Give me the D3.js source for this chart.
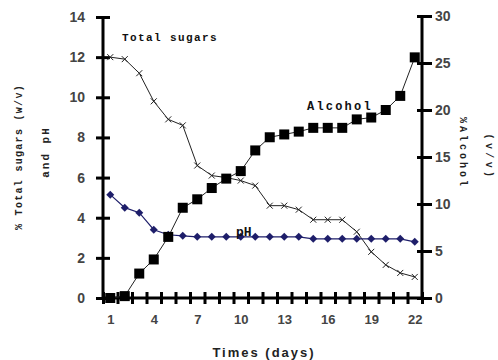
<!DOCTYPE html>
<head>
  <meta charset="utf-8">
  <script src="https://d3js.org/d3.v7.min.js"></script>
  <style>
    body { margin:0; background:#fff; }
    svg { display:block; }
  </style>
</head>
<body>
<script>
// data
var days = [1,2,3,4,5,6,7,8,9,10,11,12,13,14,15,16,17,18,19,20,21,22];
var totalSugars = [12.0,11.9,11.2,9.8,8.9,8.6,6.6,6.1,6.0,5.85,5.6,4.6,4.6,4.4,3.9,3.9,3.9,3.3,2.3,1.65,1.25,1.05];
var pH = [5.15,4.5,4.25,3.4,3.15,3.1,3.05,3.05,3.05,3.05,3.05,3.05,3.05,3.05,2.95,2.95,2.95,2.95,2.95,2.95,2.95,2.8];
var alcohol = [0,0.2,2.6,4.1,6.5,9.6,10.5,11.7,12.7,13.5,15.7,17.1,17.4,17.7,18.1,18.1,18.1,19.0,19.2,20.0,21.5,25.6];
var xTickLabels = [1,4,7,10,13,16,19,22];
var leftTicks = [0,2,4,6,8,10,12,14];
var rightTicks = [0,5,10,15,20,25,30];

var width = 498, height = 360;
var svg = d3.select("body").append("svg")
  .attr("width", width).attr("height", height);

var x = d3.scaleLinear().domain([0.5, 22.5]).range([103, 422]);
var yL = d3.scaleLinear().domain([0, 14]).range([298, 17]);
var yR = d3.scaleLinear().domain([0, 30]).range([298, 16]);

var numFont = "'Liberation Sans', Arial, sans-serif";
var labFont = "'Liberation Mono', 'Courier New', monospace";

// left axis
var gl = svg.append("g").attr("transform", "translate(103,0)")
  .call(d3.axisLeft(yL).tickValues(leftTicks).tickSize(7).tickPadding(11));
gl.select(".domain").attr("stroke-width", 3).attr("d", "M0," + yL(14) + "V" + yL(0));
gl.selectAll(".tick line").attr("x1", -7).attr("x2", 7).attr("stroke-width", 3);
gl.selectAll("text").style("font", "bold 14px " + numFont).attr("fill", "#444");

// right axis
var gr = svg.append("g").attr("transform", "translate(422,0)")
  .call(d3.axisRight(yR).tickValues(rightTicks).tickSize(10).tickPadding(3));
gr.select(".domain").attr("stroke-width", 3).attr("d", "M0," + yR(30) + "V" + yR(0));
gr.selectAll(".tick line").attr("x1", -5).attr("x2", 10).attr("stroke-width", 3);
gr.selectAll("text").style("font", "bold 14px " + numFont).attr("fill", "#444");

// bottom axis: marks on day boundaries, labels on days
var bounds = d3.range(0.5, 23, 1);
var gb = svg.append("g").attr("transform", "translate(0,298)")
  .call(d3.axisBottom(x).tickValues(bounds).tickSize(6).tickFormat(""));
gb.select(".domain").attr("stroke-width", 3).attr("d", "M103,0H422");
gb.selectAll(".tick line").attr("y1", -6).attr("y2", 6).attr("stroke-width", 3);

var gb2 = svg.append("g").attr("transform", "translate(0,298)")
  .call(d3.axisBottom(x).tickValues(xTickLabels).tickSize(0).tickPadding(17));
gb2.select(".domain").remove();
gb2.selectAll("text").style("font", "bold 13px " + numFont).attr("fill", "#444");

// lines
var lineL = function (vals) {
  return d3.line().x(function (d, i) { return x(days[i]); }).y(function (d) { return yL(d); })(vals);
};
var lineR = d3.line().x(function (d, i) { return x(days[i]); }).y(function (d) { return yR(d); });

svg.append("path").attr("d", lineL(totalSugars)).attr("fill", "none").attr("stroke", "#222").attr("stroke-width", 1);
svg.append("path").attr("d", lineL(pH)).attr("fill", "none").attr("stroke", "#1e1e6a").attr("stroke-width", 1.2);
svg.append("path").attr("d", lineR(alcohol)).attr("fill", "none").attr("stroke", "#222").attr("stroke-width", 1);

// total sugar markers (x)
svg.selectAll(".ts").data(totalSugars).enter().append("path")
  .attr("class", "ts")
  .attr("transform", function (d, i) { return "translate(" + x(days[i]) + "," + yL(d) + ")"; })
  .attr("d", "M-3,-3L3,3M-3,3L3,-3")
  .attr("stroke", "#222").attr("stroke-width", 1);

// pH markers (diamonds)
svg.selectAll(".ph").data(pH).enter().append("path")
  .attr("class", "ph")
  .attr("transform", function (d, i) { return "translate(" + x(days[i]) + "," + yL(d) + ")"; })
  .attr("d", "M0,-4L4,0L0,4L-4,0Z")
  .attr("fill", "#1e1e6a");

// alcohol markers (squares)
svg.selectAll(".al").data(alcohol).enter().append("rect")
  .attr("class", "al")
  .attr("x", function (d, i) { return x(days[i]) - 5; })
  .attr("y", function (d) { return yR(d) - 5; })
  .attr("width", 10).attr("height", 10)
  .attr("fill", "#000");

// series labels
function lab(t, px, py, size, ls, col) {
  return svg.append("text").attr("x", px).attr("y", py).text(t)
    .style("font", "bold " + size + "px " + labFont)
    .style("letter-spacing", ls + "px")
    .attr("fill", col || "#111");
}
lab("Total sugars", 122, 41, 11, 1.4);
lab("Alcohol", 307, 110, 12, 2.2);
lab("pH", 236, 236, 13, 0);

// axis titles
svg.append("text").attr("x", 264).attr("y", 357).attr("text-anchor", "middle")
  .text("Times (days)")
  .style("font", "bold 13px " + numFont).style("letter-spacing", "2px").attr("fill", "#222");

svg.append("text").attr("transform", "translate(22,157) rotate(-90)").attr("text-anchor", "middle")
  .text("% Total sugars (w/v)")
  .style("font", "bold 10px " + labFont).style("letter-spacing", "1.3px").attr("fill", "#222");
svg.append("text").attr("transform", "translate(49,152) rotate(-90)").attr("text-anchor", "middle")
  .text("and pH")
  .style("font", "bold 11px " + labFont).style("letter-spacing", "2px").attr("fill", "#222");

svg.append("text").attr("transform", "translate(460,153) rotate(90)").attr("text-anchor", "middle")
  .text("%Alcohol")
  .style("font", "bold 10px " + labFont).style("letter-spacing", "3px").attr("fill", "#222");
svg.append("text").attr("transform", "translate(486,157) rotate(90)").attr("text-anchor", "middle")
  .text("(v/v)")
  .style("font", "bold 10px " + labFont).style("letter-spacing", "3.4px").attr("fill", "#222");
</script>
</body>
</html>
